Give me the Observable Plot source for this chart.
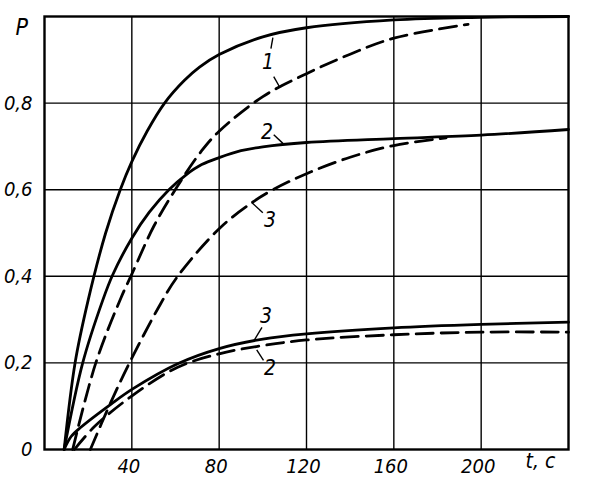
<!DOCTYPE html>
<html>
<head>
<meta charset="utf-8">
<script src="https://cdn.jsdelivr.net/npm/d3@7"></script>
<script src="https://cdn.jsdelivr.net/npm/@observablehq/plot@0.6"></script>
<style>
  html, body { margin: 0; padding: 0; background: #fff; }
</style>
</head>
<body>
<div id="chart"></div>
<script>
// Ticks
const xTicks = [40, 80, 120, 160, 200];
const yTicks = [0, 0.2, 0.4, 0.6, 0.8];

// Solid curves (1, 2, 3)
const solid1T = [9, 14, 20, 28, 34.7, 40, 47, 55, 64, 71, 80, 100, 120, 160, 200, 240];
const solid1P = [0, 0.2, 0.345, 0.5, 0.6, 0.665, 0.735, 0.8, 0.852, 0.883, 0.912, 0.953, 0.974, 0.992, 0.998, 1.0];
const solid2T = [9, 17.5, 26.7, 31.2, 40, 48, 57, 65, 72, 80, 90, 100, 120, 160, 200, 240];
const solid2P = [0, 0.2, 0.345, 0.403, 0.488, 0.548, 0.6, 0.635, 0.658, 0.674, 0.69, 0.699, 0.709, 0.718, 0.726, 0.739];
const solid3T = [9, 12.2, 16.8, 30.5, 40.4, 61, 80, 100, 120, 160, 200, 240];
const solid3P = [0, 0.03, 0.052, 0.105, 0.14, 0.198, 0.233, 0.255, 0.267, 0.281, 0.289, 0.294];

// Dashed curves (1, 3, 2)
const dashed1T = [12.9, 23.5, 35, 40, 50, 60.5, 72, 80, 100, 120, 140, 160, 194];
const dashed1P = [0, 0.2, 0.35, 0.405, 0.515, 0.605, 0.69, 0.735, 0.815, 0.868, 0.913, 0.95, 0.982];
const dashed3T = [21, 30, 38.9, 53, 61, 80, 95, 104.7, 120, 140, 160, 184];
const dashed3P = [0, 0.105, 0.2, 0.335, 0.4, 0.51, 0.57, 0.6, 0.637, 0.675, 0.702, 0.72];
const dashed2T = [13.7, 22.9, 40.4, 61, 80, 100, 120, 160, 200, 240];
const dashed2P = [0, 0.053, 0.125, 0.19, 0.221, 0.24, 0.253, 0.265, 0.271, 0.271];

// Curve labels (data units)
const labelText = ["1", "2", "3", "3", "2"];
const labelT = [102.4, 101.9, 103.3, 101.5, 103.3];
const labelP = [0.894, 0.732, 0.529, 0.307, 0.187];
// Leader lines (data units): t1, p1, t2, p2
const leaderT1 = [104.6, 105, 105, 100, 99.6, 100.3];
const leaderP1 = [0.951, 0.861, 0.727, 0.547, 0.282, 0.206];
const leaderT2 = [103.7, 107.8, 109.2, 95, 96, 97.2];
const leaderP2 = [0.926, 0.836, 0.707, 0.57, 0.252, 0.23];

function series(id, ts, ps) { return ts.map((t, i) => ({id, t, p: ps[i]})); }
const solidRows = [
  ...series("s1", solid1T, solid1P),
  ...series("s2", solid2T, solid2P),
  ...series("s3", solid3T, solid3P)
];
const dashedRows = [
  ...series("d1", dashed1T, dashed1P),
  ...series("d3", dashed3T, dashed3P),
  ...series("d2", dashed2T, dashed2P)
];
const labels = labelText.map((s, i) => ({s, t: labelT[i], p: labelP[i]}));
const leaders = leaderT1.map((t, i) => ({t1: t, p1: leaderP1[i], t2: leaderT2[i], p2: leaderP2[i]}));

const font = "'Liberation Sans Narrow', 'DejaVu Sans Condensed', sans-serif";

const chart = Plot.plot({
  width: 600,
  height: 495,
  marginLeft: 44,
  marginRight: 32,
  marginTop: 16,
  marginBottom: 46,
  style: {fontFamily: font, fontSize: "20px", fontStyle: "italic", background: "#fff", color: "#000"},
  x: {domain: [0, 240]},
  y: {domain: [0, 1]},
  marks: [
    Plot.gridX(xTicks, {stroke: "#000", strokeOpacity: 1, strokeWidth: 1.4}),
    Plot.gridY(yTicks.filter(d => d > 0), {stroke: "#000", strokeOpacity: 1, strokeWidth: 1.4}),
    Plot.frame({stroke: "#000", strokeWidth: 2.4}),
    Plot.axisX({ticks: xTicks, tickSize: 0, tickPadding: 9, dx: -3, tickFormat: d => String(d), label: null, fontSize: 20}),
    Plot.axisY({ticks: yTicks, tickSize: 0, tickPadding: 12, tickFormat: d => String(d).replace(".", ","), label: null, fontSize: 20}),
    Plot.line(solidRows, {x: "t", y: "p", z: "id", stroke: "#000", strokeWidth: 2.8, curve: "catmull-rom"}),
    Plot.line(dashedRows, {x: "t", y: "p", z: "id", stroke: "#000", strokeWidth: 2.8, strokeDasharray: "17,8", curve: "catmull-rom"}),
    Plot.link(leaders, {x1: "t1", y1: "p1", x2: "t2", y2: "p2", stroke: "#000", strokeWidth: 1.4}),
    Plot.text(labels, {x: "t", y: "p", text: "s", fontSize: 21, fill: "#000"}),
    Plot.text(["P"], {frameAnchor: "top-left", dx: -29, dy: 2, text: d => d, fontSize: 23, fill: "#000"}),
    Plot.text(["t, c"], {frameAnchor: "bottom-right", dx: -43, dy: 18, textAnchor: "start", text: d => d, fontSize: 21, fill: "#000"})
  ]
});
document.getElementById("chart").appendChild(chart);
</script>
</body>
</html>
